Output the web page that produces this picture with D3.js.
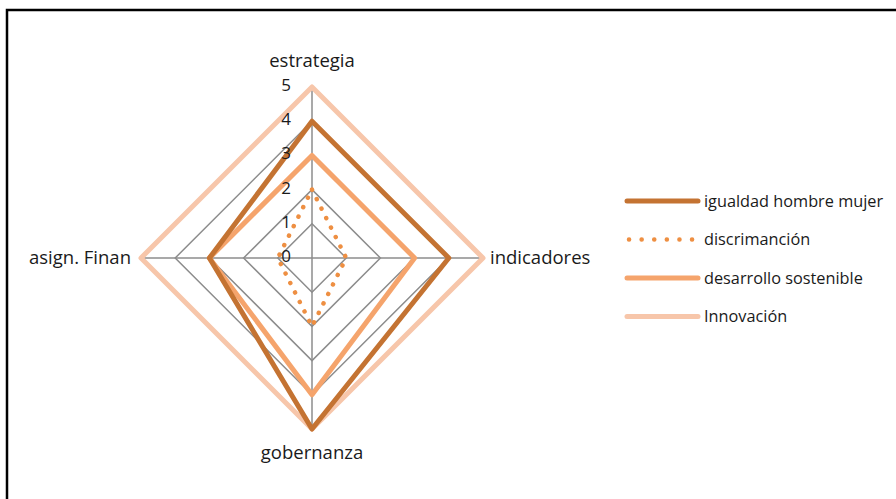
<!DOCTYPE html>
<html>
<head>
<meta charset="utf-8">
<script src="https://cdn.jsdelivr.net/npm/d3@7"></script>
<style>
  body { margin: 0; background: #fff; }
  text { font-family: "Open Sans", sans-serif; fill: #1a1a1a; }
</style>
</head>
<body>
<svg id="chart" width="896" height="499"></svg>
<script>
var axes = ['estrategia', 'indicadores', 'gobernanza', 'asign. Finan'];
var seriesNames = ['igualdad hombre mujer', 'discrimanción', 'desarrollo sostenible', 'Innovación'];
var igualdad = [4, 4, 5, 3];
var discriminacion = [2, 1, 2, 1];
var desarrollo = [3, 3, 4, 3];
var innovacion = [5, 5, 5, 5];
var ticks = [0, 1, 2, 3, 4, 5];

var colors = ['#c47332', '#ee8f42', '#f5a46c', '#f7c6aa'];
var values = [igualdad, discriminacion, desarrollo, innovacion];

var width = 896,
    height = 499,
    cx = 312,
    cy = 258,
    radius = 171;

var svg = d3.select('#chart');

// frame
svg.append('rect')
    .attr('x', 7)
    .attr('y', 10)
    .attr('width', 900)
    .attr('height', 500)
    .attr('fill', 'none')
    .attr('stroke', '#000')
    .attr('stroke-width', 2.5);

var r = d3.scaleLinear().domain([0, 5]).range([0, radius]);
var angle = d3.scalePoint().domain(axes).range([0, 2 * Math.PI * 3 / 4]);

function pt(a, v) {
  var t = angle(a) - Math.PI / 2;
  return [cx + r(v) * Math.cos(t), cy + r(v) * Math.sin(t)];
}

var g = svg.append('g');

// grid rings
ticks.slice(1).forEach(function(t) {
  g.append('path')
      .attr('d', d3.line()(axes.map(function(a) { return pt(a, t); })) + 'Z')
      .attr('fill', 'none')
      .attr('stroke', '#8c8c8c')
      .attr('stroke-width', 1.5);
});

// spokes
axes.forEach(function(a) {
  var p = pt(a, 5);
  g.append('line')
      .attr('x1', cx).attr('y1', cy)
      .attr('x2', p[0]).attr('y2', p[1])
      .attr('stroke', '#8c8c8c')
      .attr('stroke-width', 1.5);
});

// series, drawn back to front
var line = d3.line().curve(d3.curveLinearClosed);
[3, 2, 0, 1].forEach(function(i) {
  var path = g.append('path')
      .attr('d', line(axes.map(function(a, j) { return pt(a, values[i][j]); })))
      .attr('fill', 'none')
      .attr('stroke', colors[i])
      .attr('stroke-width', 5)
      .attr('stroke-linejoin', 'round');
  if (i === 1) {
    path.attr('stroke-width', 4.5)
        .attr('stroke-linecap', 'round')
        .attr('stroke-dasharray', '0.1 10.5');
  }
});

// tick labels
ticks.forEach(function(t) {
  g.append('text')
      .attr('x', cx - 21)
      .attr('y', cy - r(t) + 4)
      .attr('text-anchor', 'end')
      .attr('font-size', 17)
      .text(t);
});

// axis labels
var labelPos = {
  'estrategia': { x: cx, y: 67, anchor: 'middle' },
  'indicadores': { x: 490, y: 264, anchor: 'start' },
  'gobernanza': { x: cx, y: 459, anchor: 'middle' },
  'asign. Finan': { x: 131, y: 264, anchor: 'end' }
};
axes.forEach(function(a) {
  var p = labelPos[a];
  g.append('text')
      .attr('x', p.x)
      .attr('y', p.y)
      .attr('text-anchor', p.anchor)
      .attr('font-size', 18.5)
      .text(a);
});

// legend
var legend = svg.append('g').attr('transform', 'translate(627, 201)');
seriesNames.forEach(function(name, i) {
  var row = legend.append('g').attr('transform', 'translate(0,' + (i * 38.5) + ')');
  var l = row.append('line')
      .attr('x1', 0).attr('x2', 71)
      .attr('y1', 0).attr('y2', 0)
      .attr('stroke', colors[i])
      .attr('stroke-width', 5)
      .attr('stroke-linecap', 'round');
  if (i === 1) {
    l.attr('x1', 2).attr('x2', 66)
        .attr('stroke-width', 4.5)
        .attr('stroke-dasharray', '0.1 12.5');
  }
  row.append('text')
      .attr('x', 77)
      .attr('y', 5.5)
      .attr('font-size', 16.3)
      .text(name);
});
</script>
</body>
</html>
